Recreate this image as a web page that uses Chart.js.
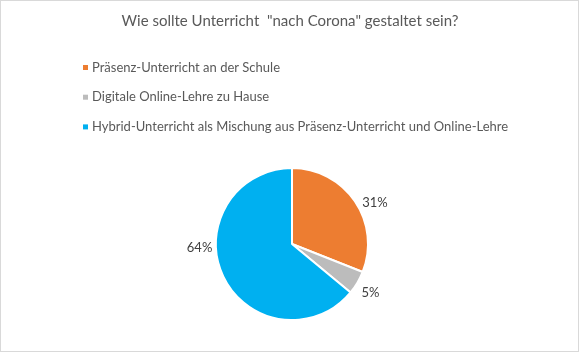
<!DOCTYPE html>
<html>
<head>
<meta charset="utf-8">
<script src="https://cdn.jsdelivr.net/npm/chart.js@4/dist/chart.umd.min.js"></script>
<style>
  html, body { margin: 0; padding: 0; background: #ffffff; }
  #wrap { width: 579px; height: 352px; position: relative; }
</style>
</head>
<body>
<div id="wrap"><canvas id="c" width="579" height="352"></canvas></div>
<script>
// ---- data ----
const chartTitle = 'Wie sollte Unterricht  "nach Corona" gestaltet sein?';
const categories = [
  'Präsenz-Unterricht an der Schule',
  'Digitale Online-Lehre zu Hause',
  'Hybrid-Unterricht als Mischung aus Präsenz-Unterricht und Online-Lehre'
];
const shares = [31, 5, 64];
const shareLabels = ['31%', '5%', '64%'];

// ---- style ----
const sliceColors = ['#ED7D31', '#BCBCBC', '#00B0F0'];
const labelAngleShiftDeg = [8, 1.4, 23];   // Excel "best fit" style nudges
const FONT = 'Lato, "Open Sans", "DejaVu Sans", sans-serif';

const decor = {
  id: 'decor',
  afterDraw(chart) {
    const ctx = chart.ctx;
    ctx.save();
    // outer frame
    ctx.strokeStyle = '#d9d9d9';
    ctx.lineWidth = 1;
    ctx.strokeRect(0.5, 0.5, chart.width - 1, chart.height - 1);
    // title
    ctx.fillStyle = '#595959';
    ctx.font = '15px ' + FONT;
    ctx.textAlign = 'center';
    ctx.textBaseline = 'middle';
    ctx.fillText(chartTitle, 290, 21);
    // legend
    ctx.font = '13px ' + FONT;
    ctx.textAlign = 'left';
    const labels = chart.data.labels;
    const colors = chart.data.datasets[0].backgroundColor;
    labels.forEach((lab, i) => {
      const y = 67.5 + i * 29.7;
      ctx.fillStyle = colors[i];
      ctx.fillRect(83, y - 2.5, 5, 5);
      ctx.fillStyle = '#595959';
      ctx.fillText(lab, 92, y);
    });
    // data labels
    const meta = chart.getDatasetMeta(0);
    ctx.fillStyle = '#404040';
    ctx.font = '13px ' + FONT;
    ctx.textAlign = 'center';
    meta.data.forEach((arc, i) => {
      const p = arc.getProps(['x', 'y', 'startAngle', 'endAngle', 'outerRadius']);
      const mid = (p.startAngle + p.endAngle) / 2 + labelAngleShiftDeg[i] * Math.PI / 180;
      const r = p.outerRadius + 16.5;
      ctx.fillText(shareLabels[i], p.x + Math.cos(mid) * r, p.y + Math.sin(mid) * r);
    });
    ctx.restore();
  }
};

new Chart(document.getElementById('c'), {
  type: 'pie',
  data: {
    labels: categories,
    datasets: [{
      data: shares,
      backgroundColor: sliceColors,
      borderColor: '#ffffff',
      borderWidth: 2
    }]
  },
  options: {
    responsive: false,
    animation: false,
    layout: { padding: { top: 167, bottom: 31, left: 192, right: 187 } },
    plugins: {
      legend: { display: false },
      title: { display: false },
      tooltip: { enabled: false }
    }
  },
  plugins: [decor]
});
</script>
</body>
</html>
